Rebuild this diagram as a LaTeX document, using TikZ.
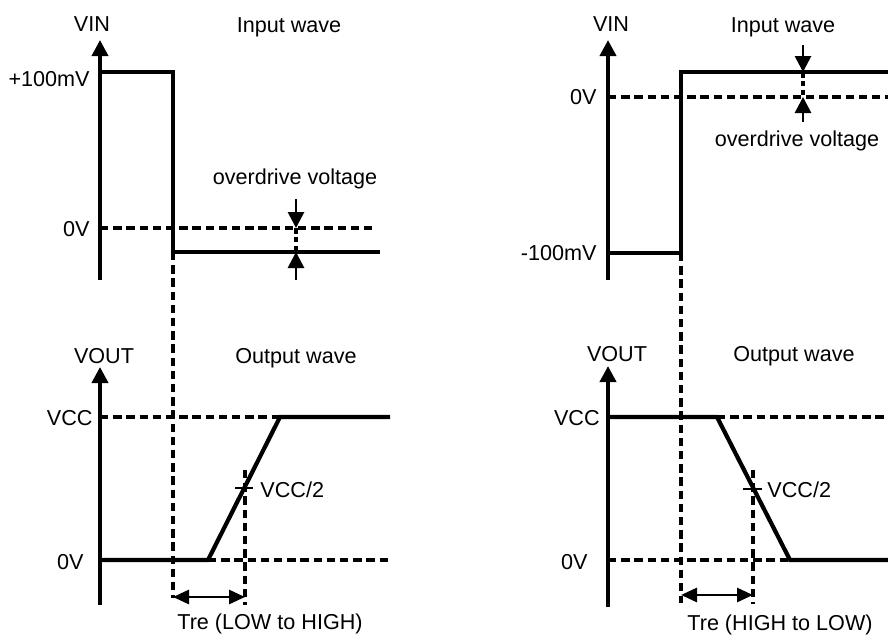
\documentclass[tikz,border=0pt]{standalone}
\usepackage{fontspec}
\setmainfont{Liberation Sans}
\usetikzlibrary{arrows.meta, positioning}

\begin{document}
\begin{tikzpicture}[
  x=0.5pt, y=-0.5pt,
  font=\fontsize{10.8}{13}\selectfont,
  axis/.style={line width=1.9pt, -{Triangle[length=8pt, width=8pt]}},
  wave/.style={line width=2.1pt},
  guide/.style={line width=1.8pt, dash pattern=on 4.2pt off 2.4pt},
  odarr/.style={line width=1.4pt, -{Triangle[length=8pt, width=8pt]}},
  trarr/.style={line width=1.4pt, {Triangle[length=8pt, width=7pt]}-{Triangle[length=8pt, width=7pt]}},
  tick/.style={line width=1.2pt},
  lbl/.style={inner sep=0pt}
]
\useasboundingbox (0,0) rectangle (888,637);

% Left: input wave
\coordinate (Lin0)  at (100,280);
\coordinate (Lin1)  at (100,40);
\coordinate (Lhi)   at (100,72);
\coordinate (Lfall) at (173,72);
\coordinate (Llow)  at (173,252);
\coordinate (Lend)  at (380,252);
\coordinate (Lz0)   at (100,228);
\coordinate (Lz1)   at (376,228);
\coordinate (Lodt)  at (296,199);
\coordinate (Lodz)  at (296,228);
\coordinate (Lodl)  at (296,252);
\coordinate (Lodb)  at (296,280);
\coordinate (Ldrop) at (173,598);

\draw[axis] (Lin0) -- (Lin1);
\draw[guide] (Lz0) -- (Lz1);
\draw[wave] (Lhi) -- (Lfall) -- (Llow) -- (Lend);
\draw[odarr] (Lodt) -- (Lodz);
\draw[odarr] (Lodb) -- (Lodl);
\draw[guide, line width=1.6pt, dash pattern=on 2.8pt off 1.6pt] (Lodz) -- (Lodl);
\draw[guide] (Llow) -- (Ldrop);

\node[lbl] (LvinT)  at (92,24)   {VIN};
\node[lbl] (LinT)   at (289,27)  {Input wave};
\node[lbl, anchor=east] (LhiT) at (90,79)  {+100mV};
\node[lbl, anchor=east] (LzT)  at (90,229) {0V};
\node[lbl] (LodT)   at (295,179) {overdrive voltage};

% Left: output wave
\coordinate (Lout0)   at (100,605);
\coordinate (Lout1)   at (100,367);
\coordinate (Lvcc0)   at (100,417);
\coordinate (Lrise1)  at (280,417);
\coordinate (Lvcc1)   at (390,417);
\coordinate (Lgnd0)   at (100,560);
\coordinate (Lrise0)  at (208,560);
\coordinate (Lgnd1)   at (390,560);
\coordinate (Ltick0)  at (235,488);
\coordinate (Ltick1)  at (253,488);
\coordinate (Lmark0)  at (245,470);
\coordinate (Lmark1)  at (245,605);
\coordinate (Ltre0)   at (173,597);
\coordinate (Ltre1)   at (245,597);

\draw[axis] (Lout0) -- (Lout1);
\draw[guide] (Lvcc0) -- (Lrise1);
\draw[guide] (Lrise0) -- (Lgnd1);
\draw[wave] (Lgnd0) -- (Lrise0) -- (Lrise1) -- (Lvcc1);
\draw[tick] (Ltick0) -- (Ltick1);
\draw[guide] (Lmark0) -- (Lmark1);
\draw[trarr] (Ltre0) -- (Ltre1);

\node[lbl] (LvoutT) at (104,356) {VOUT};
\node[lbl] (LoutT)  at (296,358) {Output wave};
\node[lbl, anchor=east] (LvccT) at (93,418)  {VCC};
\node[lbl, anchor=east] (LgndT) at (84,562)  {0V};
\node[lbl, anchor=west] (LhalfT) at (260,490) {VCC/2};
\node[lbl] (LtreT)  at (270,624) {Tre (LOW to HIGH)};

% Right: input wave
\coordinate (Rin0)  at (608,280);
\coordinate (Rin1)  at (608,40);
\coordinate (Rlo)   at (608,253);
\coordinate (Rrise) at (681,253);
\coordinate (Rhi)   at (681,72);
\coordinate (Rend)  at (888,72);
\coordinate (Rz0)   at (608,97);
\coordinate (Rz1)   at (888,97);
\coordinate (Rodt)  at (803,45);
\coordinate (Rodh)  at (803,72);
\coordinate (Rodz)  at (803,97);
\coordinate (Rodb)  at (803,122);
\coordinate (Rdrop) at (681,603);

\draw[axis] (Rin0) -- (Rin1);
\draw[guide] (Rz0) -- (Rz1);
\draw[wave] (Rlo) -- (Rrise) -- (Rhi) -- (Rend);
\draw[odarr] (Rodt) -- (Rodh);
\draw[odarr] (Rodb) -- (Rodz);
\draw[guide, line width=1.6pt, dash pattern=on 2.8pt off 1.6pt] (Rodh) -- (Rodz);
\draw[guide] (Rrise) -- (Rdrop);

\node[lbl] (RvinT)  at (611,24)  {VIN};
\node[lbl] (RinT)   at (783,27)  {Input wave};
\node[lbl, anchor=east] (RzT)  at (597,97)  {0V};
\node[lbl, anchor=east] (RloT) at (597,253) {-100mV};
\node[lbl] (RodT)   at (797,141) {overdrive voltage};

% Right: output wave
\coordinate (Rout0)  at (608,607);
\coordinate (Rout1)  at (608,366);
\coordinate (Rvcc0)  at (608,417);
\coordinate (Rfall0) at (717,417);
\coordinate (Rvcc1)  at (888,417);
\coordinate (Rgnd0)  at (608,560);
\coordinate (Rfall1) at (790,560);
\coordinate (Rgnd1)  at (888,560);
\coordinate (Rtick0) at (743,489);
\coordinate (Rtick1) at (762,489);
\coordinate (Rmark0) at (753,470);
\coordinate (Rmark1) at (753,604);
\coordinate (Rtre0)  at (681,595);
\coordinate (Rtre1)  at (753,595);

\draw[axis] (Rout0) -- (Rout1);
\draw[guide] (Rfall0) -- (Rvcc1);
\draw[guide] (Rgnd0) -- (Rfall1);
\draw[wave] (Rvcc0) -- (Rfall0) -- (Rfall1) -- (Rgnd1);
\draw[tick] (Rtick0) -- (Rtick1);
\draw[guide] (Rmark0) -- (Rmark1);
\draw[trarr] (Rtre0) -- (Rtre1);

\node[lbl] (RvoutT) at (617,354) {VOUT};
\node[lbl] (RoutT)  at (794,356) {Output wave};
\node[lbl, anchor=east] (RvccT) at (600,418) {VCC};
\node[lbl, anchor=east] (RgndT) at (588,562) {0V};
\node[lbl, anchor=west] (RhalfT) at (767,490) {VCC/2};
\node[lbl] (RtreT)  at (780,625) {Tre (HIGH to LOW)};

\end{tikzpicture}
\end{document}
